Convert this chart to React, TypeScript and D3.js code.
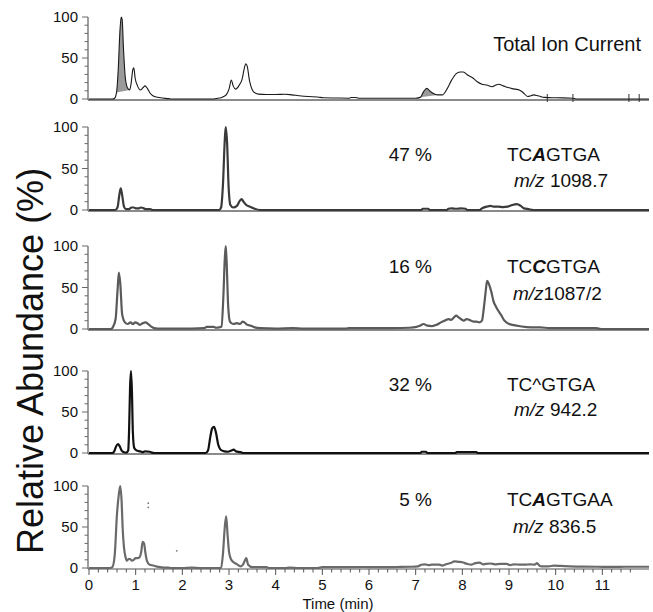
import React from "react";
import * as d3 from "d3";

// ---------- data ----------
const timeTicks = [0, 1, 2, 3, 4, 5, 6, 7, 8, 9, 10, 11];
const yTickLabels = [0, 50, 100];

const ticTrace: [number, number][] = [
  [0, 0], [0.5, 0], [0.55, 1], [0.59, 8], [0.63, 40], [0.66, 80], [0.69, 100], [0.71, 97], [0.74, 60], [0.78, 25],
  [0.83, 13], [0.87, 11], [0.9, 18], [0.94, 36], [0.96, 38], [0.99, 25], [1.04, 16], [1.1, 11], [1.16, 14], [1.2, 16],
  [1.25, 13], [1.31, 7], [1.4, 3], [1.53, 1.5], [1.7, 0.5], [1.78, 0], [2.68, 0], [2.76, 1], [2.83, 1.5], [2.88, 3],
  [2.94, 5], [3.0, 12], [3.05, 23], [3.09, 16], [3.14, 12], [3.22, 17], [3.28, 24], [3.33, 38], [3.36, 43], [3.39, 40],
  [3.44, 22], [3.5, 11], [3.57, 7], [3.63, 6], [3.8, 5.5], [4.0, 5.5], [4.2, 5.8], [4.35, 5], [4.5, 4], [4.7, 3],
  [4.9, 2.5], [5.02, 1.5], [5.3, 1.2], [5.58, 1], [5.62, 1.8], [5.72, 1.8], [5.77, 1], [6.0, 1], [7.0, 1], [7.1, 2],
  [7.17, 9], [7.24, 13], [7.3, 10], [7.37, 7], [7.47, 5], [7.57, 5], [7.67, 12], [7.77, 23], [7.87, 31], [7.95, 33],
  [8.02, 33], [8.12, 29], [8.24, 25], [8.32, 21], [8.42, 18], [8.52, 17], [8.64, 15], [8.72, 17], [8.78, 18], [8.88, 16],
  [8.98, 14], [9.05, 13], [9.13, 12], [9.22, 11], [9.3, 8], [9.4, 3], [9.47, 4], [9.53, 5], [9.62, 4], [9.76, 2],
  [10.0, 1.5], [10.38, 1], [10.43, 0], [12, 0],
];
const ticFillRanges: [number, number][] = [[0.57, 0.87], [7.08, 7.47]];
const ticMarkTimes = [9.82, 10.37, 11.57, 11.79];

const trace47: [number, number][] = [
  [0, 0], [0.56, 0], [0.61, 3], [0.65, 18], [0.68, 26], [0.71, 18], [0.75, 4], [0.79, 1], [0.86, 1], [0.91, 3],
  [0.96, 3], [1.01, 2], [1.06, 2], [1.11, 3], [1.16, 2.5], [1.21, 1], [1.31, 1], [1.36, 0], [2.79, 0], [2.83, 3],
  [2.87, 30], [2.91, 85], [2.93, 100], [2.96, 80], [2.99, 30], [3.03, 6], [3.09, 3], [3.17, 5], [3.23, 11], [3.27, 13],
  [3.31, 10], [3.37, 6], [3.45, 4], [3.53, 2], [3.67, 0], [7.12, 0], [7.15, 1.5], [7.27, 1.5], [7.3, 0], [7.67, 0],
  [7.7, 1.5], [7.77, 2], [7.87, 1.5], [7.97, 2], [8.07, 1.5], [8.1, 0], [8.37, 0], [8.42, 2], [8.52, 4], [8.6, 5],
  [8.67, 4], [8.77, 4], [8.87, 3.5], [8.97, 4], [9.07, 6], [9.17, 7], [9.25, 5], [9.32, 2], [9.42, 1], [9.52, 0],
  [12, 0],
];

const trace16: [number, number][] = [
  [0, 0], [0.47, 0], [0.51, 2], [0.57, 12], [0.61, 45], [0.64, 68], [0.67, 55], [0.71, 18], [0.77, 8], [0.83, 6],
  [0.89, 8], [0.94, 6], [0.99, 8], [1.04, 7], [1.09, 5], [1.15, 7], [1.21, 8], [1.27, 6], [1.33, 3], [1.39, 1],
  [1.47, 0.5], [1.7, 0.5], [2.2, 0.5], [2.47, 1], [2.52, 2.5], [2.57, 2.5], [2.67, 2.5], [2.72, 1.5], [2.79, 2], [2.84, 3],
  [2.88, 40], [2.91, 85], [2.93, 100], [2.95, 80], [2.98, 30], [3.02, 9], [3.09, 6], [3.17, 7], [3.24, 6], [3.29, 9],
  [3.33, 8], [3.39, 5], [3.47, 4], [3.55, 2], [3.67, 1], [4.0, 0.5], [4.37, 1], [4.6, 0.5], [5.5, 0.5], [5.57, 1],
  [6.0, 1], [6.5, 1], [6.87, 1.5], [7.02, 2.5], [7.09, 4], [7.17, 6], [7.25, 4], [7.35, 3.5], [7.45, 5], [7.54, 8],
  [7.62, 10], [7.71, 12], [7.76, 11], [7.82, 14], [7.87, 16], [7.92, 14], [7.97, 12], [8.03, 10], [8.09, 12], [8.15, 11], [8.24, 9],
  [8.3, 9], [8.37, 8], [8.42, 10], [8.46, 25], [8.5, 45], [8.53, 58], [8.57, 54], [8.62, 45], [8.67, 33], [8.71, 28],
  [8.77, 22], [8.83, 17], [8.89, 11], [8.97, 7], [9.07, 5], [9.17, 4], [9.27, 3], [9.47, 2], [9.67, 2], [9.87, 1],
  [10.5, 1], [10.87, 1], [10.97, 0], [12, 0],
];

const trace32: [number, number][] = [
  [0, 0], [0.5, 0], [0.54, 2], [0.58, 8], [0.62, 11], [0.66, 8], [0.7, 3], [0.75, 1], [0.8, 0.5], [0.84, 3],
  [0.86, 30], [0.88, 80], [0.9, 100], [0.92, 75], [0.94, 25], [0.97, 6], [1.02, 3], [1.1, 2], [1.15, 1], [1.2, 2],
  [1.3, 1.5], [1.35, 0.5], [1.4, 0], [2.5, 0], [2.55, 3], [2.6, 20], [2.64, 30], [2.68, 32], [2.72, 25], [2.77, 10],
  [2.82, 4], [2.9, 2], [2.98, 1.5], [3.05, 3], [3.1, 4], [3.15, 2], [3.25, 1], [3.3, 0], [7.1, 0], [7.13, 1.5],
  [7.22, 1.5], [7.25, 0], [7.85, 0], [7.88, 1], [8.3, 1], [8.33, 0], [12, 0],
];

const trace5: [number, number][] = [
  [0, 0], [0.45, 0], [0.5, 1], [0.55, 15], [0.6, 66], [0.64, 90], [0.67, 100], [0.7, 80], [0.72, 50], [0.75, 25],
  [0.78, 14], [0.81, 9], [0.85, 11], [0.88, 11], [0.92, 9], [0.96, 10], [1.0, 12], [1.04, 12], [1.08, 13], [1.12, 20],
  [1.15, 32], [1.18, 30], [1.21, 18], [1.24, 9], [1.3, 4], [1.38, 3], [1.44, 2], [1.52, 1], [1.6, 0.5], [1.7, 0.5],
  [1.75, 0], [2.0, 0], [2.2, 0.5], [2.4, 0], [2.83, 0], [2.87, 17], [2.91, 50], [2.94, 63], [2.97, 40], [3.0, 20],
  [3.04, 11], [3.1, 7], [3.16, 5], [3.25, 2], [3.3, 4], [3.34, 9], [3.37, 12], [3.41, 4], [3.5, 1], [3.6, 1],
  [3.8, 1], [3.85, 0], [4.2, 0], [4.3, 0.5], [4.5, 0], [4.9, 0], [5.0, 1], [5.5, 1], [5.9, 1.2], [6.3, 1],
  [6.6, 1.2], [6.9, 1.5], [7.05, 2], [7.12, 4], [7.2, 4.5], [7.28, 3.5], [7.35, 4], [7.5, 4], [7.58, 3], [7.65, 4.5], [7.75, 6], [7.83, 8],
  [7.92, 7.5], [8.0, 7], [8.1, 5], [8.19, 4], [8.28, 6], [8.37, 6.5], [8.44, 4.5], [8.5, 5], [8.6, 5.5], [8.7, 4.5], [8.81, 5],
  [8.95, 5], [9.02, 3.5], [9.1, 4.5], [9.25, 4], [9.34, 4], [9.45, 4.5], [9.55, 4], [9.6, 6], [9.65, 3], [9.7, 2], [9.85, 2],
  [9.96, 2.8], [10.1, 2.5], [10.3, 2], [10.6, 1.6], [10.9, 1.5], [11.2, 1.3], [11.5, 1.5], [11.8, 1.5], [12, 1.5],
];
const trace5Specks: [number, number][] = [[1.27, 79], [1.27, 74], [1.88, 21]];

const percentLabels = ["47 %", "16 %", "32 %", "5 %"];
const seqPrefix = ["TC", "TC", "TC", "TC"];
const seqMark = ["A", "C", "^", "A"];
const seqSuffix = ["GTGA", "GTGA", "GTGA", "GTGAA"];
const mzSeparators = [" ", "", " ", " "];
const mzValues = ["1098.7", "1087/2", "942.2", "836.5"];
const ticTitle = "Total Ion Current";
const yTitle = "Relative Abundance (%)";
const xTitle = "Time (min)";

// ---------- layout ----------
const W = 653;
const H = 612;
const AXIS_X = 88;
const X_END = 649;
const panelTop = [17, 127, 246, 371, 486];
const panelBase = [99, 210, 329, 453, 568];
const labelLine1Y = [161, 273, 391, 506];
const labelLine2Y = [187, 300, 416, 533];
const mzX = [514, 513, 514, 513];
const traceColor = ["#1a1a1a", "#3a3a3a", "#5a5a5a", "#111111", "#6a6a6a"];
const traceWidth = [1.1, 2.2, 2.2, 2.2, 2.2];
const FONT = "'Liberation Sans', Arial, Helvetica, sans-serif";

export default function App() {
  const x = d3.scaleLinear().domain([0, 12]).range([AXIS_X + 1, X_END]);
  const traces = [ticTrace, trace47, trace16, trace32, trace5];

  const panels = traces.map((tr, i) => {
    const y = d3.scaleLinear().domain([0, 100]).range([panelBase[i], panelTop[i]]);
    const line = d3
      .line<[number, number]>()
      .x((d) => x(d[0]))
      .y((d) => y(d[1]))
      .curve(d3.curveMonotoneX);
    const yTicks = d3.range(0, 101, 10);
    return (
      <g key={i}>
        <line x1={AXIS_X} x2={X_END} y1={y(0) + 1} y2={y(0) + 1} stroke="#8a8a8a" strokeWidth={i === 4 ? 1.4 : 2} />
        <line x1={AXIS_X} x2={AXIS_X} y1={y(100)} y2={y(0) + 1} stroke="#6a6a6a" strokeWidth={1.3} />
        {yTicks.map((v) => (
          <line
            key={v}
            x1={AXIS_X - (v % 50 === 0 ? 6 : 3.5)}
            x2={AXIS_X}
            y1={y(v)}
            y2={y(v)}
            stroke="#6a6a6a"
            strokeWidth={1}
          />
        ))}
        {yTickLabels.map((v) => (
          <text
            key={v}
            x={AXIS_X - 10}
            y={y(v)}
            dy="0.35em"
            textAnchor="end"
            fontSize={15}
            fill="#111"
          >
            {v}
          </text>
        ))}
        {i === 0 &&
          ticFillRanges.map((r, k) => {
            const pts = tr.filter((d) => d[0] >= r[0] && d[0] <= r[1]);
            return <path key={k} d={(line(pts) || "") + "Z"} fill="#9a9a9a" stroke="none" />;
          })}
        {i === 0 &&
          ticMarkTimes.map((t, k) => (
            <line key={k} x1={x(t)} x2={x(t)} y1={y(0) - 5} y2={y(0) + 3} stroke="#333" strokeWidth={1} />
          ))}
        <path d={line(tr) || ""} fill="none" stroke={traceColor[i]} strokeWidth={traceWidth[i]} strokeLinejoin="round" />
        {i === 4 &&
          trace5Specks.map((d, k) => <circle key={k} cx={x(d[0])} cy={y(d[1])} r={0.9} fill="#777" />)}
      </g>
    );
  });

  const bottomY = d3.scaleLinear().domain([0, 100]).range([panelBase[4], panelTop[4]]);
  const minorTicks = d3.range(0, 59).map((k) => k * 0.2);

  return (
    <svg
      width={W}
      height={H}
      style={{ position: "absolute", left: 0, top: 0, background: "#fff" }}
      fontFamily={FONT}
    >
      <rect x={0} y={0} width={W} height={H} fill="#fff" />
      {panels}
      {minorTicks.map((t, k) => (
        <line
          key={k}
          x1={x(t)}
          x2={x(t)}
          y1={bottomY(0) + 1}
          y2={bottomY(0) + (k % 5 === 0 ? 7 : 4.5)}
          stroke="#555"
          strokeWidth={1}
        />
      ))}
      {timeTicks.map((t) => (
        <text key={t} x={x(t)} y={590} textAnchor="middle" fontSize={15} fill="#111">
          {t}
        </text>
      ))}
      <text x={338} y={609} textAnchor="middle" fontSize={15} fill="#111">
        {xTitle}
      </text>
      <text transform={`translate(43, 361) rotate(-90)`} textAnchor="middle" fontSize={36} fill="#111">
        {yTitle}
      </text>
      <text x={641} y={51} textAnchor="end" fontSize={20} fill="#111">
        {ticTitle}
      </text>
      {percentLabels.map((p, k) => (
        <g key={k} fontSize={19} fill="#111">
          <text x={432} y={labelLine1Y[k]} textAnchor="end">
            {p}
          </text>
          <text x={507} y={labelLine1Y[k]}>
            {seqPrefix[k]}
            <tspan
              fontWeight={seqMark[k] === "^" ? "normal" : "bold"}
              fontStyle={seqMark[k] === "^" ? "normal" : "italic"}
            >
              {seqMark[k]}
            </tspan>
            {seqSuffix[k]}
          </text>
          <text x={mzX[k]} y={labelLine2Y[k]}>
            <tspan fontStyle="italic">m/z</tspan>
            {mzSeparators[k] + mzValues[k]}
          </text>
        </g>
      ))}
    </svg>
  );
}
